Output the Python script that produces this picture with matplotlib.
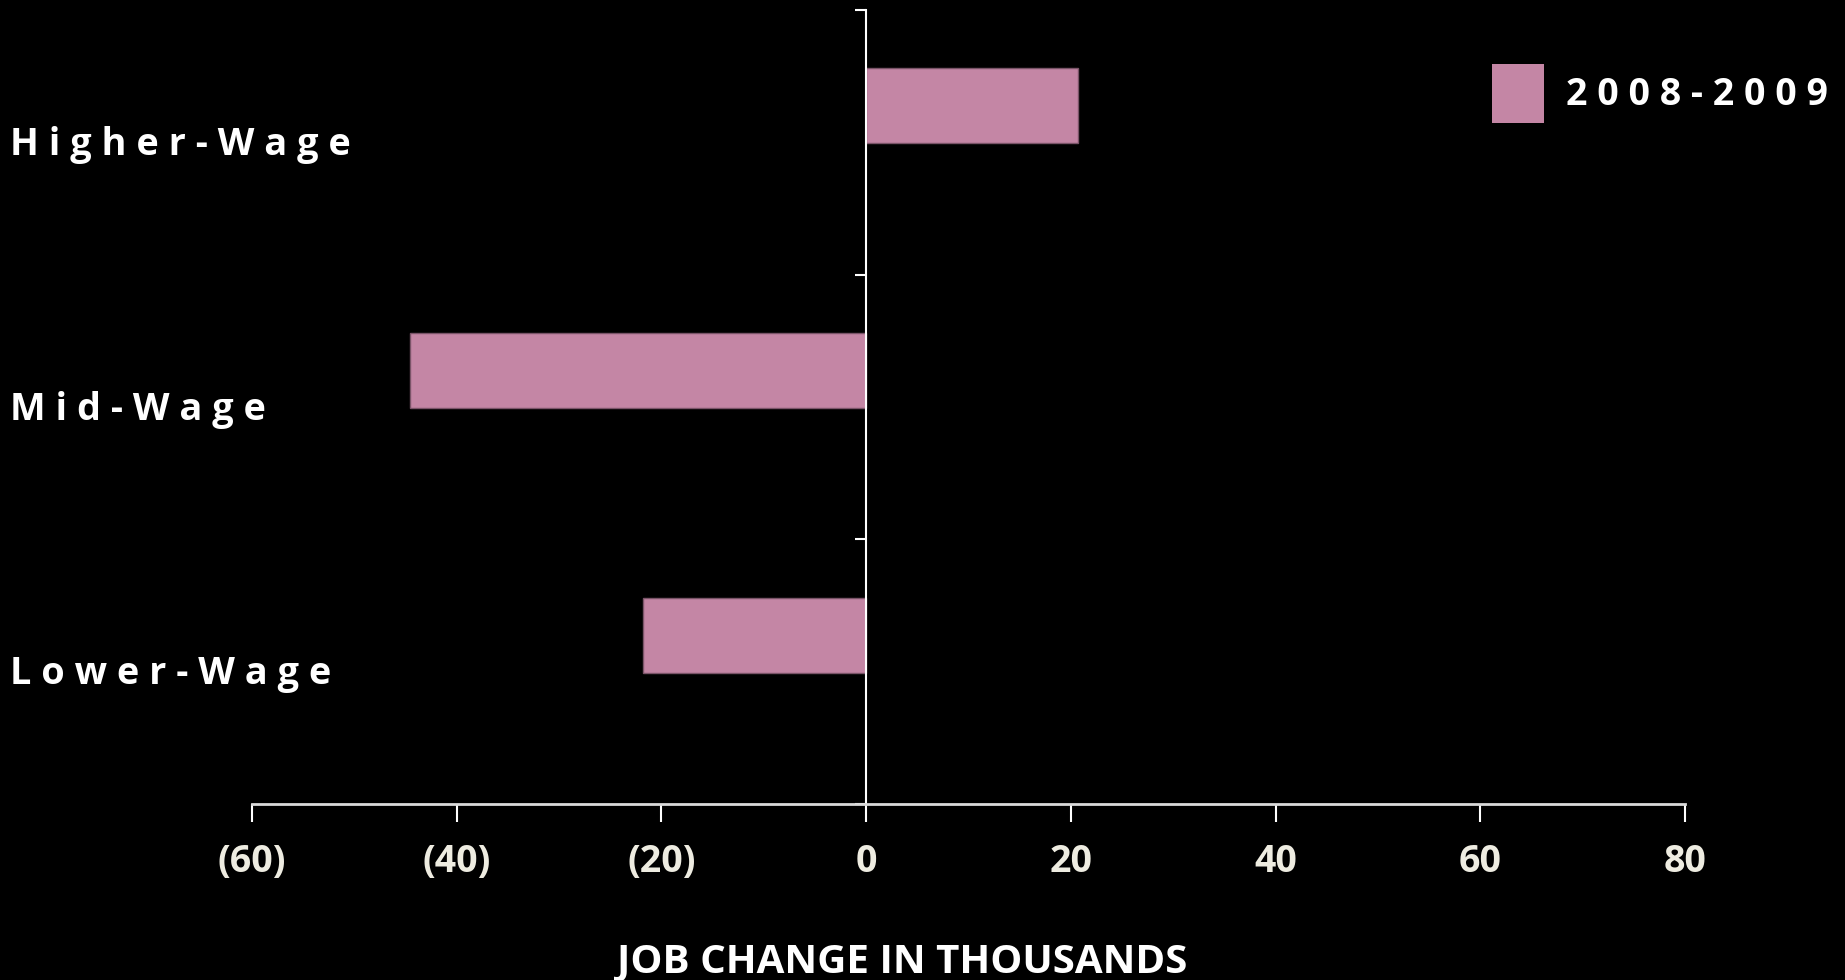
import matplotlib
matplotlib.use('Agg')
import matplotlib.pyplot as plt
import matplotlib.transforms as mtrans
from matplotlib.patches import Patch

# data
categories = ['Lower-Wage', 'Mid-Wage', 'Higher-Wage']
job_change = [-21.8, -44.6, 20.7]
series_name = '2008-2009'
xticks = [-60, -40, -20, 0, 20, 40, 60, 80]
xticklabels = ['(60)', '(40)', '(20)', '0', '20', '40', '60', '80']

bar_color = '#C486A5'
txt_color = '#EEECE1'
fnt = 'Open Sans'

fig = plt.figure(figsize=(18.45, 9.8), dpi=100, facecolor='black')
ax = fig.add_axes([252/1845, 1-804/980, (1685-252)/1845, (804-10)/980])
ax.set_facecolor('black')

ypos = [i + 0.138 for i in range(len(categories))]
ax.barh(ypos, job_change, height=0.284, color=bar_color,
        edgecolor='#7a5468', linewidth=1, zorder=2)

ax.set_xlim(-60, 80)
ax.set_ylim(-0.5, 2.5)
ax.set_xticks(xticks)
ax.set_xticklabels(xticklabels, fontsize=27, fontweight='bold',
                   color=txt_color, family=fnt)
ax.set_yticks([-0.5, 0.5, 1.5, 2.5])
ax.set_yticklabels([])
ax.tick_params(axis='x', direction='out', length=13, width=1.5,
               color='white', pad=15)
ax.tick_params(axis='y', direction='out', length=8, width=1.5, color='white')

for s in ['top', 'right']:
    ax.spines[s].set_visible(False)
ax.spines['left'].set_position(('data', 0))
ax.spines['left'].set_color('white')
ax.spines['left'].set_linewidth(1.5)
ax.spines['bottom'].set_color('#d9d9d9')
ax.spines['bottom'].set_linewidth(2)

# category labels, spaced out, at left edge of figure
tr = mtrans.blended_transform_factory(fig.transFigure, ax.transData)
for i, c in enumerate(categories):
    ax.text(10/1845, i - 0.01, ' '.join(c), transform=tr, ha='left',
            va='center', fontsize=27.3, fontweight='bold', color='white',
            family=fnt)

fig.text(902/1845, 1-962/980, 'JOB CHANGE IN THOUSANDS', ha='center',
         va='center', fontsize=29, fontweight='bold', color='white',
         family=fnt)

handles = [Patch(facecolor=bar_color, edgecolor='none')]
leg = fig.legend(handles, [' '.join(series_name)], loc='upper left',
                 bbox_to_anchor=(1492/1845, 1-64/980), frameon=False,
                 borderpad=0, borderaxespad=0, handlelength=1.38,
                 handleheight=2.05, handletextpad=0.6,
                 prop={'family': fnt, 'weight': 'bold', 'size': 27})
for t in leg.get_texts():
    t.set_color('white')

plt.savefig('out.png', dpi=100, facecolor='black')
